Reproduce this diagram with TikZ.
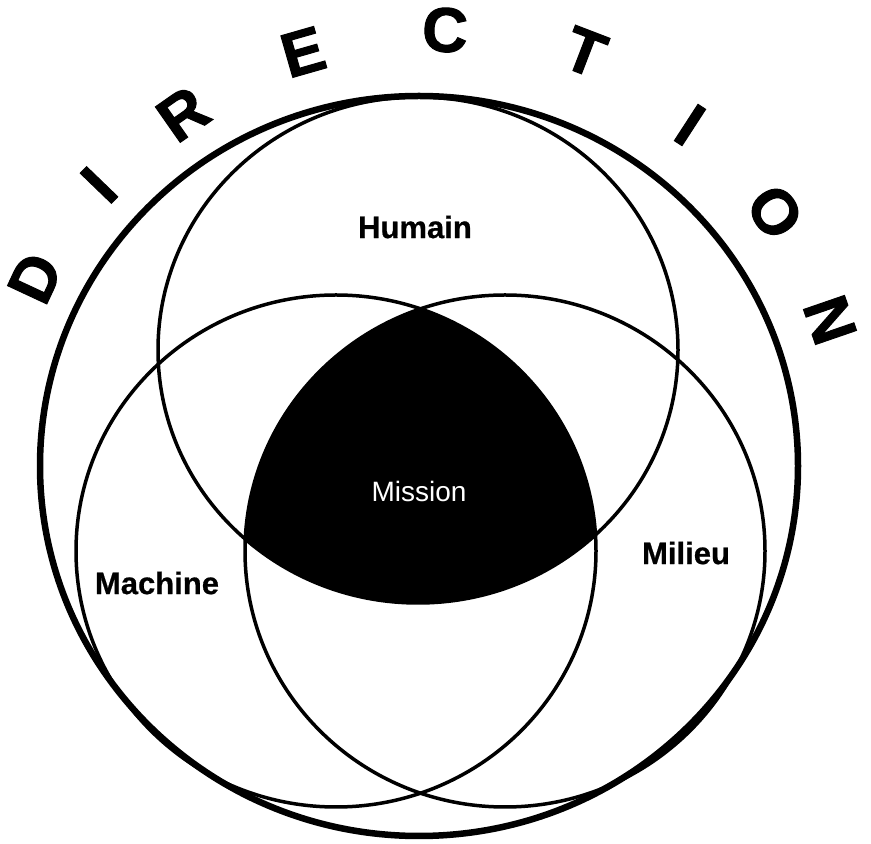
\documentclass[tikz,border=0pt]{standalone}
\usepackage{fontspec}
\setmainfont{Liberation Sans}
\newfontfamily\heavyfont[FakeBold=1.6]{Liberation Sans Bold}
\newfontfamily\labelfont[FakeBold=0.6]{Liberation Sans Bold}
\tikzset{
  ring/.style={line width=3.5pt},
  rim/.style={line width=6.5pt},
  lbl/.style={font=\fontsize{31}{31}\selectfont\labelfont, inner sep=0pt},
  spell/.style={font=\fontsize{63}{63}\selectfont\heavyfont, inner sep=0pt}
}
\begin{document}
\begin{tikzpicture}[x=1pt, y=1pt]
  \useasboundingbox (0,0) rectangle (871,844);
  % black part shared by the three circles
  \begin{scope}
    \clip (418,494) ellipse [x radius=260pt, y radius=253pt];
    \clip (336,293) ellipse [x radius=260pt, y radius=256pt];
    \fill (505,293) ellipse [x radius=260pt, y radius=256pt];
  \end{scope}
  \draw[ring] (418,494) ellipse [x radius=260pt, y radius=253pt];
  \draw[ring] (336,293) ellipse [x radius=260pt, y radius=256pt];
  \draw[ring] (505,293) ellipse [x radius=260pt, y radius=256pt];
  \draw[rim] (419,378) ellipse [x radius=379pt, y radius=370pt];

  \node[lbl] (humain) at (415,617) {Humain};
  \node[lbl] (machine) at (157,261) {Machine};
  \node[lbl] (milieu) at (686,291) {Milieu};
  \node[lbl, font=\fontsize{28}{28}\selectfont, text=white] (mission) at (419,353) {Mission};

  % the word round the top
  \foreach \ltr/\px/\py/\rot [count=\k] in {D/35/566/65, I/99/659/46, R/183/730/35,
      E/303/792/16, C/445/814/-3, T/585/792/-21, I/690/719/-33, O/775/632/-55, N/830/524/-71}
    \node[spell, rotate=\rot] (ltr\k) at (\px,\py) {\ltr};
\end{tikzpicture}
\end{document}
